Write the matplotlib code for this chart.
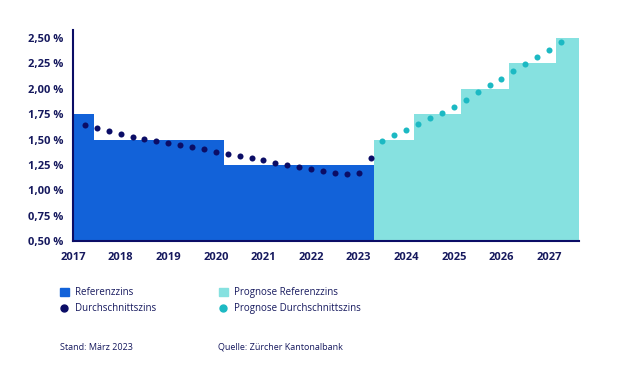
import numpy as np
import matplotlib
matplotlib.use("Agg")
from matplotlib import pyplot as plt
from matplotlib.lines import Line2D
from matplotlib.patches import Patch

# Referenzzins (steps): edges in years, values in %
ref_edges = [2017.0, 2017.44, 2020.17, 2023.32]
ref_values = [1.75, 1.50, 1.25]
prog_edges = [2023.32, 2024.16, 2025.15, 2026.15, 2027.14, 2027.63]
prog_values = [1.50, 1.75, 2.00, 2.25, 2.50]

# Durchschnittszins (quarterly)
avg_x = [2017.25 + 0.25 * i for i in range(25)]
avg_values = [1.64, 1.61, 1.58, 1.55, 1.53, 1.51, 1.49, 1.47, 1.45, 1.43,
              1.41, 1.38, 1.36, 1.34, 1.32, 1.30, 1.27, 1.25, 1.23, 1.21,
              1.19, 1.17, 1.16, 1.17, 1.32]
prog_avg_x = [2023.5 + 0.25 * i for i in range(16)]
prog_avg_values = [1.49, 1.54, 1.59, 1.65, 1.71, 1.76, 1.82, 1.89, 1.97, 2.04,
                   2.10, 2.18, 2.24, 2.31, 2.38, 2.46]

years = list(range(2017, 2028))
y_ticks = [0.50, 0.75, 1.00, 1.25, 1.50, 1.75, 2.00, 2.25, 2.50]

blue = "#1262d9"
navy = "#0b0d66"
teal_light = "#86e1e0"
teal = "#1cb9c3"
text_col = "#16195e"

plt.rcParams["font.family"] = ["Open Sans", "DejaVu Sans"]

fig = plt.figure(figsize=(6.24, 3.70), dpi=100)
ax = fig.add_axes([73 / 624, 1 - 241 / 370, (579 - 73) / 624, (241 - 30) / 370])

ax.bar(ref_edges[:-1], ref_values, width=np.diff(ref_edges), align="edge",
       color=blue, linewidth=0)
ax.bar(prog_edges[:-1], prog_values, width=np.diff(prog_edges), align="edge",
       color=teal_light, linewidth=0)
ax.scatter(avg_x, avg_values, s=19, color=navy, zorder=3, linewidths=0)
ax.scatter(prog_avg_x, prog_avg_values, s=19, color=teal, zorder=3, linewidths=0)

ax.set_xlim(2017, 2027.63)
ax.set_ylim(0.5, 2.58)
ax.set_xticks(years)
ax.set_xticklabels([str(y) for y in years], fontsize=8, fontweight="bold", color=text_col)
ax.set_yticks(y_ticks)
ax.set_yticklabels([("%.2f %%" % v).replace(".", ",") for v in y_ticks],
                   fontsize=8, fontweight="bold", color=text_col)
ax.tick_params(length=0)
ax.tick_params(axis="y", pad=7)
ax.tick_params(axis="x", pad=8)
for s in ["top", "right"]:
    ax.spines[s].set_visible(False)
for s in ["left", "bottom"]:
    ax.spines[s].set_color(navy)
    ax.spines[s].set_linewidth(1.5)

h1 = [Patch(color=blue, label="Referenzzins"),
      Line2D([], [], marker="o", ls="", color=navy, markersize=5, label="Durchschnittszins")]
h2 = [Patch(color=teal_light, label="Prognose Referenzzins"),
      Line2D([], [], marker="o", ls="", color=teal, markersize=5, label="Prognose Durchschnittszins")]
leg_kw = dict(loc="upper left", frameon=False, fontsize=7, labelcolor=text_col,
              handlelength=0.9, handleheight=0.9, handletextpad=0.6, labelspacing=0.55,
              borderpad=0, borderaxespad=0)
fig.legend(handles=h1, bbox_to_anchor=(60 / 624, 1 - 287 / 370), **leg_kw)
fig.legend(handles=h2, bbox_to_anchor=(219 / 624, 1 - 287 / 370), **leg_kw)

fig.text(60 / 624, 1 - 347 / 370, "Stand: März 2023", fontsize=6.5, color=text_col, va="center")
fig.text(218 / 624, 1 - 347 / 370, "Quelle: Zürcher Kantonalbank", fontsize=6.5, color=text_col, va="center")

fig.savefig("out.png", dpi=100)
